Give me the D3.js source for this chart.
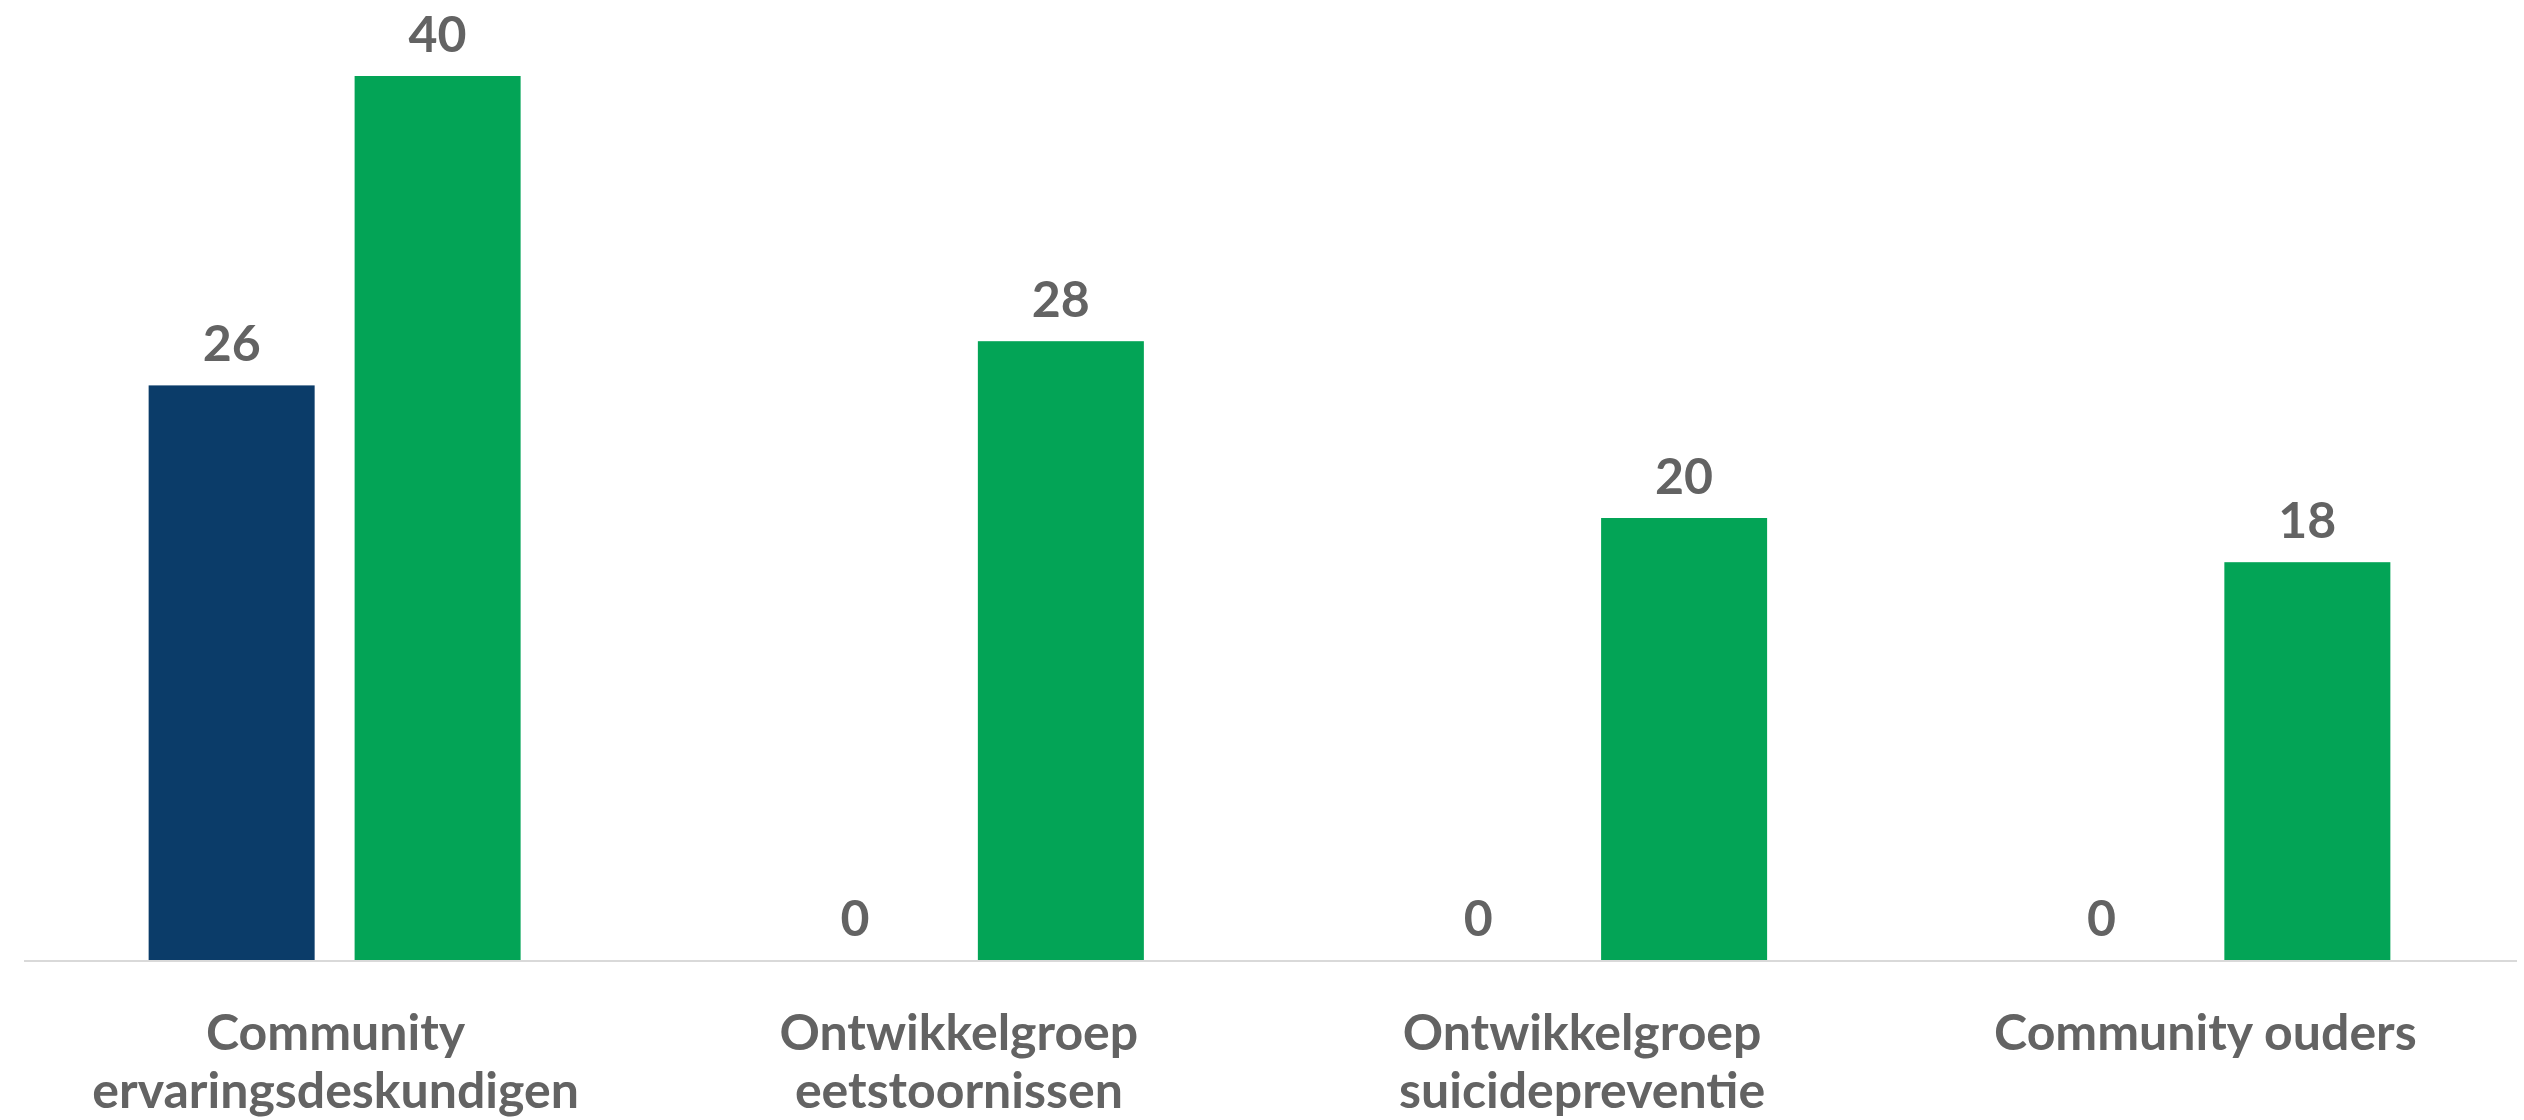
<!DOCTYPE html>
<html>
<head>
<meta charset="utf-8">
<script src="https://cdn.jsdelivr.net/npm/d3@7"></script>
<style>
  html, body { margin: 0; padding: 0; background: #fff; }
  text { font-family: Lato, "Open Sans", sans-serif; font-weight: bold; fill: #636363; }
</style>
</head>
<body>
<svg width="2524" height="1120"></svg>
<script>
// chart data
const categories = [
  ["Community", "ervaringsdeskundigen"],
  ["Ontwikkelgroep", "eetstoornissen"],
  ["Ontwikkelgroep", "suicidepreventie"],
  ["Community ouders"]
]
const seriesNames = ["blauw", "groen"]
const blueValues = [26, 0, 0, 0]
const greenValues = [40, 28, 20, 18]
const colors = ["#0B3C69", "#03A456"]

const svg = d3.select("svg")
const baseY = 960

const x = d3.scaleBand()
    .domain(d3.range(categories.length))
    .range([24, 2517])

const xSub = d3.scaleBand()
    .domain(seriesNames)
    .range([0, x.bandwidth()])
    .paddingInner(0.194)
    .paddingOuter(0.61)

const y = d3.scaleLinear()
    .domain([0, 40])
    .range([baseY, 76])

const rows = categories.map((c, i) => ({
    i: i,
    vals: [blueValues[i], greenValues[i]]
}))

const groups = svg.selectAll("g.cat")
    .data(rows)
    .enter().append("g")
    .attr("class", "cat")
    .attr("transform", d => "translate(" + x(d.i) + ",0)")

groups.selectAll("rect")
    .data(d => d.vals.map((v, k) => ({ v: v, k: k })))
    .enter().append("rect")
    .attr("x", d => xSub(seriesNames[d.k]) - 1)
    .attr("width", xSub.bandwidth())
    .attr("y", d => y(d.v))
    .attr("height", d => baseY - y(d.v))
    .attr("fill", d => colors[d.k])

groups.selectAll("text.val")
    .data(d => d.vals.map((v, k) => ({ v: v, k: k })))
    .enter().append("text")
    .attr("class", "val")
    .attr("x", d => xSub(seriesNames[d.k]) + xSub.bandwidth() / 2 - 1)
    .attr("y", d => y(d.v) - 24)
    .attr("text-anchor", "middle")
    .style("font-size", "50px")
    .text(d => d.v)

// axis line
svg.append("line")
    .attr("x1", 24).attr("x2", 2517)
    .attr("y1", baseY + 1).attr("y2", baseY + 1)
    .attr("stroke", "#D9D9D9")
    .attr("stroke-width", 2)

// category labels
const labels = svg.selectAll("text.cat")
    .data(categories)
    .enter().append("text")
    .attr("class", "cat")
    .attr("text-anchor", "middle")
    .style("font-size", "50px")

labels.selectAll("tspan")
    .data((d, i) => d.map(line => ({ line: line, i: i })))
    .enter().append("tspan")
    .attr("x", d => x(d.i) + x.bandwidth() / 2)
    .attr("y", (d, j) => 1050 + j * 58)
    .text(d => d.line)
</script>
</body>
</html>
